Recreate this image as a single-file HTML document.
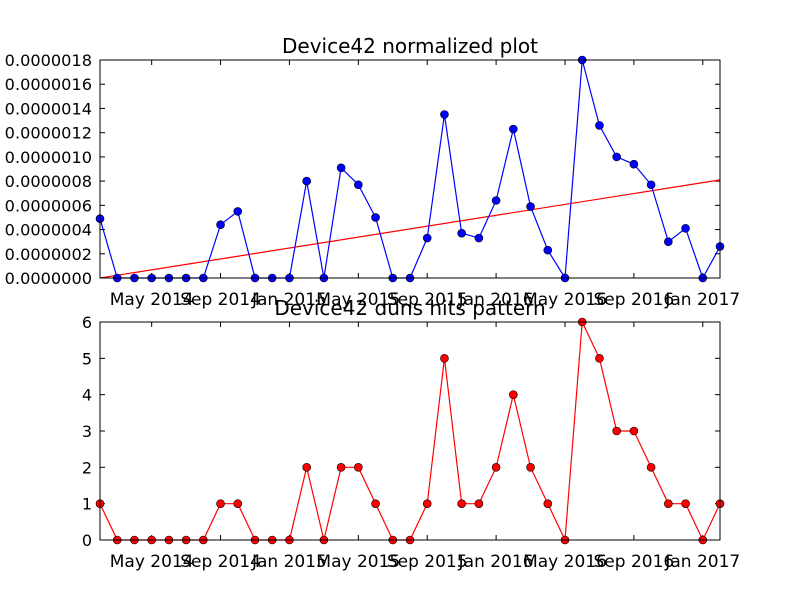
<!DOCTYPE html>
<html><head><meta charset="utf-8"><style>
body{margin:0;background:#fff}
svg{display:block;font-family:"DejaVu Sans","Liberation Sans",sans-serif}
</style></head><body>
<svg id="c" width="800" height="600"></svg>
<script>
const dateTicks=["May 2014","Sep 2014","Jan 2015","May 2015","Sep 2015","Jan 2016","May 2016","Sep 2016","Jan 2017"];
const tickIdx=[3,7,11,15,19,23,27,31,35];
const normVals=[4.9,0,0,0,0,0,0,4.4,5.5,0,0,0,8.0,0,9.1,7.7,5.0,0,0,3.3,13.5,3.7,3.3,6.4,12.3,5.9,2.3,0,18,12.6,10,9.4,7.7,3.0,4.1,0,2.6];
const hitVals=[1,0,0,0,0,0,0,1,1,0,0,0,2,0,2,2,1,0,0,1,5,1,1,2,4,2,1,0,6,5,3,3,2,1,1,0,1];
const trend=[0,8.1];
const normTicks=["0.0000000","0.0000002","0.0000004","0.0000006","0.0000008","0.0000010","0.0000012","0.0000014","0.0000016","0.0000018"];
const hitTicks=["0","1","2","3","4","5","6"];
const NS="http://www.w3.org/2000/svg";
const svg=document.getElementById('c');
function el(t,a,p){const e=document.createElementNS(NS,t);for(const k in a)e.setAttribute(k,a[k]);(p||svg).appendChild(e);return e;}
const X0=100,X1=720,N=normVals.length;
const xs=i=>X0+(X1-X0)*i/(N-1);
function panel(top,bot,vals,ymax,ticks,tickStep,color,title,name,trendLine){
  const g=el('g',{});
  
  
  const ys=v=>bot-(bot-top)*v/ymax;
  ticks.forEach((t,k)=>{const y=ys(k*tickStep);
    el('line',{x1:X0,x2:X0+5,y1:y,y2:y,stroke:'#000'},g);
    el('line',{x1:X1,x2:X1-5,y1:y,y2:y,stroke:'#000'},g);
    const a={x:92,y:y+6,'text-anchor':'end','font-size':16};
    if(t.length>3){a.textLength=t.length*9.7;a.lengthAdjust='spacingAndGlyphs';}
    const tx=el('text',a,g);tx.textContent=t;
    
    });
  tickIdx.forEach((ix,k)=>{const x=xs(ix);
    el('line',{x1:x,x2:x,y1:bot,y2:bot-5,stroke:'#000'},g);
    el('line',{x1:x,x2:x,y1:top,y2:top+5,stroke:'#000'},g);
    const tx=el('text',{x:x,y:bot+27,'text-anchor':'middle','font-size':17},g);tx.textContent=dateTicks[k];
    
    });
  if(trendLine){const l=el('line',{x1:X0,y1:ys(trendLine[0]),x2:X1,y2:ys(trendLine[1]),stroke:'#f00','stroke-width':1.2},g);
    
    }
  const p=el('polyline',{points:vals.map((v,i)=>xs(i)+','+ys(v)).join(' '),fill:'none',stroke:color,'stroke-width':1.2},g);
  
  
  vals.forEach((v,i)=>{const c=el('circle',{cx:xs(i),cy:ys(v),r:4,fill:color,stroke:'#000','stroke-width':0.6},g);
    
    });
  el('rect',{x:X0,y:top,width:X1-X0,height:bot-top,fill:'none',stroke:'#000','stroke-width':1},g);
  const t=el('text',{x:(X0+X1)/2,y:top-7,'text-anchor':'middle','font-size':20},g);t.textContent=title;
  
  
}
panel(60,278,normVals,18,normTicks,2,'#0000ff','Device42 normalized plot','normalized-plot',trend);
panel(322,540,hitVals,6,hitTicks,1,'#ff0000','Device42 duns hits pattern','hits-plot',null);
</script>
</body></html>
